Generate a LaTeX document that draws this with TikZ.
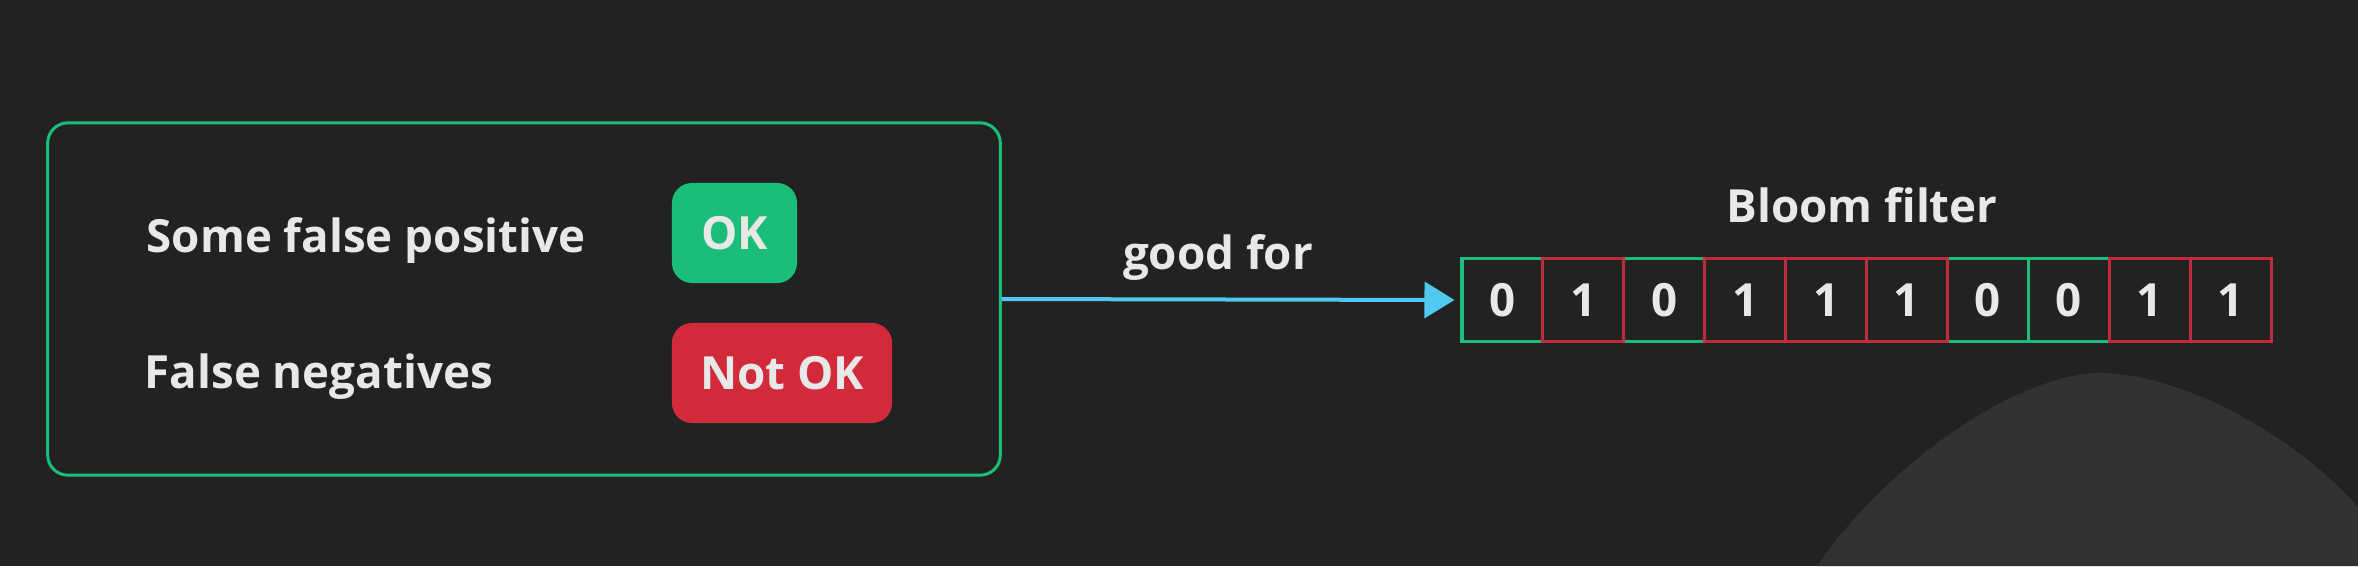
\documentclass[tikz,border=0pt]{standalone}
\usepackage{fontspec}
\setmainfont{Open Sans}
\usetikzlibrary{arrows.meta}

\definecolor{bg}{RGB}{34,34,34}
\definecolor{hill}{RGB}{49,50,49}
\definecolor{fg}{RGB}{232,232,232}
\definecolor{okgreen}{RGB}{27,190,120}
\definecolor{badred}{RGB}{209,42,58}
\definecolor{cellred}{RGB}{190,44,62}
\definecolor{flow}{RGB}{80,200,240}

\begin{document}
\begin{tikzpicture}[x=0.01cm,y=-0.01cm,
  every node/.style={text=fg, font=\bfseries\fontsize{13}{15}\selectfont},
  label/.style={inner sep=0pt, anchor=base west},
  badge/.style={rounded corners=0.2cm, minimum height=1cm, inner sep=0pt},
  bitbox/.style={draw, line width=0.03cm, minimum width=0.809cm, minimum height=0.82cm, inner sep=0pt}]

% background
\useasboundingbox (0,0) rectangle (2358,566);
\fill[bg] (0,0) rectangle (2358,566);
\fill[hill] (1817,566) .. controls (1890,460) and (2020,373) .. (2101,373)
  .. controls (2175,373) and (2290,430) .. (2358,507) -- (2358,566) -- cycle;

% left panel
\node[draw=okgreen, line width=0.03cm, rounded corners=0.2cm, minimum width=9.52cm, minimum height=3.52cm] (props) at (524,299) {};
\node[label] (fp) at (146,252) {Some false positive};
\node[label] (fn) at (144,388) {False negatives};
\node[badge, fill=okgreen, minimum width=1.25cm] (ok) at (734.5,233) {OK};
\node[badge, fill=badred, minimum width=2.2cm] (notok) at (782,373) {Not OK};

% bit array
\foreach \i in {0,2,6,7}
  \node[bitbox, draw=okgreen] (cell\i) at (1502.45+80.9*\i,300) {0};
\foreach \i in {1,3,4,5,8,9}
  \node[bitbox, draw=cellred] (cell\i) at (1502.45+80.9*\i,300) {1};
\node[inner sep=0pt, anchor=base] (bloom) at (1862,222) {Bloom filter};

% arrow
\draw[flow, line width=0.04cm, -{Triangle[length=0.3cm, width=0.36cm]}, shorten >=0.06cm] (props.east) -- (cell0.west);
\node[inner sep=0pt, anchor=base] (goodfor) at (1218,269) {good for};
\end{tikzpicture}
\end{document}
